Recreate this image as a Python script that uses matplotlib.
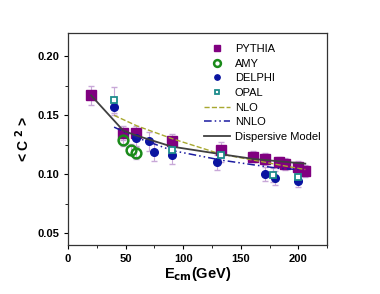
import matplotlib
matplotlib.use("Agg")
import matplotlib.pyplot as plt
from matplotlib.ticker import MultipleLocator

plt.rcParams['font.family'] = ['Liberation Sans', 'DejaVu Sans']

pythia_x = [20, 48, 59, 90, 133, 161, 171, 183, 188, 200, 206]
pythia_y = [0.167, 0.135, 0.135, 0.128, 0.121, 0.115, 0.113, 0.110, 0.109, 0.106, 0.103]
pythia_e = [0.008, 0.006, 0.006, 0.006, 0.006, 0.005, 0.005, 0.005, 0.005, 0.005, 0.005]

amy_x = [48, 55, 59]
amy_y = [0.129, 0.121, 0.118]
amy_e = [0.005, 0.005, 0.005]

delphi_x = [40, 59, 70, 75, 90, 129, 171, 180, 200]
delphi_y = [0.157, 0.131, 0.128, 0.119, 0.116, 0.110, 0.100, 0.097, 0.094]
delphi_e = [0.007, 0.007, 0.008, 0.008, 0.007, 0.006, 0.006, 0.006, 0.005]

opal_x = [40, 90, 133, 178, 200]
opal_y = [0.163, 0.121, 0.116, 0.099, 0.098]
opal_e = [0.011, 0.006, 0.006, 0.006, 0.005]

nlo_x = [40, 60, 91, 133, 161, 183, 200, 206]
nlo_y = [0.150, 0.141, 0.130, 0.117, 0.112, 0.108, 0.105, 0.104]

nnlo_x = [40, 60, 91, 133, 161, 183, 200]
nnlo_y = [0.140, 0.131, 0.120, 0.112, 0.108, 0.105, 0.104]

disp_x = [20, 48, 59, 90, 133, 161, 183, 206]
disp_y = [0.167, 0.137, 0.133, 0.1235, 0.117, 0.113, 0.111, 0.109]

fig = plt.figure(figsize=(3.8, 2.94), dpi=100)
ax = fig.add_axes([0.179, 0.167, 0.682, 0.721])

ecol = '#c8a8d8'
ax.errorbar(pythia_x, pythia_y, yerr=pythia_e, fmt='none', ecolor=ecol, elinewidth=0.8, capsize=2, zorder=2)
ax.errorbar(delphi_x, delphi_y, yerr=delphi_e, fmt='none', ecolor=ecol, elinewidth=0.8, capsize=2, zorder=2)
ax.errorbar(opal_x, opal_y, yerr=opal_e, fmt='none', ecolor=ecol, elinewidth=0.8, capsize=2, zorder=2)
ax.errorbar(amy_x, amy_y, yerr=amy_e, fmt='none', ecolor=ecol, elinewidth=0.8, capsize=2, zorder=2)

ax.plot(pythia_x, pythia_y, 's', color='#800080', ms=7, ls='none', label='PYTHIA', zorder=3)
ax.plot(amy_x, amy_y, 'o', mfc='none', mec='#1a8a1a', mew=1.8, ms=7, ls='none', label='AMY', zorder=3)
ax.plot(delphi_x, delphi_y, 'o', color='#0a14a0', ms=5.5, ls='none', label='DELPHI', zorder=3)
ax.plot(opal_x, opal_y, 's', mfc='white', mec='#1e8c8c', mew=1.3, ms=5, ls='none', label='OPAL', zorder=4)
ax.plot(nlo_x, nlo_y, '--', color='#a8a830', lw=1.0, label='NLO', zorder=3)
ax.plot(nnlo_x, nnlo_y, color='#1a1aa0', lw=1.1, dashes=[5, 2, 1, 2, 1, 2], label='NNLO', zorder=3)
ax.plot(disp_x, disp_y, '-', color='#404040', lw=1.3, label='Dispersive Model', zorder=3)

ax.set_xlim(0, 225)
ax.set_ylim(0.04, 0.22)
ax.xaxis.set_major_locator(MultipleLocator(50))
ax.xaxis.set_minor_locator(MultipleLocator(25))
ax.yaxis.set_major_locator(MultipleLocator(0.05))
ax.yaxis.set_minor_locator(MultipleLocator(0.025))
ax.set_xticks([0, 50, 100, 150, 200])
ax.set_xticklabels(['0', '50', '100', '150', '200'])
ax.set_yticks([0.05, 0.10, 0.15, 0.20])
ax.set_yticklabels(['0.05', '0.10', '0.15', '0.20'])
ax.tick_params(axis='both', which='major', direction='out', length=3, width=0.8, labelsize=8)
ax.tick_params(axis='both', which='minor', direction='out', length=2, width=0.6)
for lab in ax.get_xticklabels() + ax.get_yticklabels():
    lab.set_fontweight('bold')
for s in ax.spines.values():
    s.set_linewidth(0.9)
    s.set_color('#333333')

ax.set_xlabel(r'E$_{\mathbf{cm}}$(GeV)', fontsize=10.5, fontweight='bold', labelpad=0.5)
ax.set_ylabel(r'< C $^{\mathbf{2}}$ >', fontsize=10, fontweight='bold', labelpad=4)

leg = ax.legend(loc='upper right', bbox_to_anchor=(1.0, 0.98), frameon=False, fontsize=8,
                handlelength=2.4, handletextpad=0.4, labelspacing=0.42, markerscale=0.7,
                borderaxespad=0.2)

fig.savefig('out.png', dpi=100)
